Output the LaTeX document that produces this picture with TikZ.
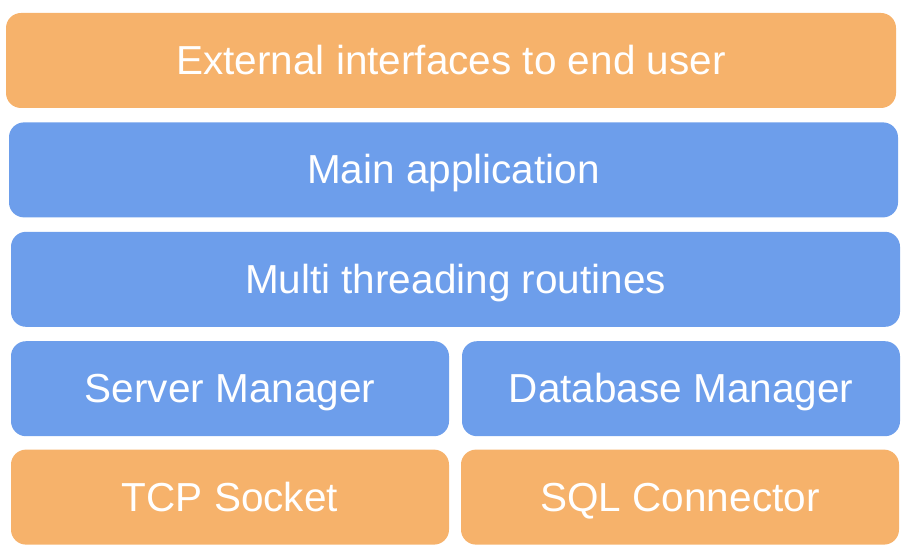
\documentclass[tikz,border=0pt]{standalone}
\usepackage{fontspec}
\setmainfont{Liberation Sans}
\usetikzlibrary{positioning}

\definecolor{layerorange}{HTML}{F6B26B}
\definecolor{layerblue}{HTML}{6D9EEB}

\begin{document}
\begin{tikzpicture}[
        node distance=14pt,
        every node/.style={rounded corners=15pt, inner sep=0pt, text=white,
            font=\fontsize{40.5}{48}\selectfont, minimum height=95pt,
            text height=36pt, text depth=8pt},
        outer/.style={fill=layerorange},
        inner/.style={fill=layerblue},
        wide/.style={minimum width=889pt},
        half/.style={minimum width=438pt}
    ]

    \useasboundingbox (0pt,0pt) rectangle (912pt,-556pt);

    % Nodes
    \node (user)[outer, minimum width=890pt] at (451pt,-60.5pt) {External interfaces to end user};
    \node (app)[below=of user, inner, wide, xshift=2.5pt] {Main application};
    \node (threads)[below=of app, inner, wide, xshift=2pt] {Multi threading routines};

    \node (server)[below right=14pt and 0pt of threads.south west, inner, half] {Server Manager};
    \node (database)[below left=14pt and 0pt of threads.south east, inner, half] {Database Manager};

    \node (tcp)[below=13pt of server, outer, half] {TCP Socket};
    \node (sql)[below=13pt of database, outer, half, xshift=-1pt] {SQL Connector};

\end{tikzpicture}
\end{document}
